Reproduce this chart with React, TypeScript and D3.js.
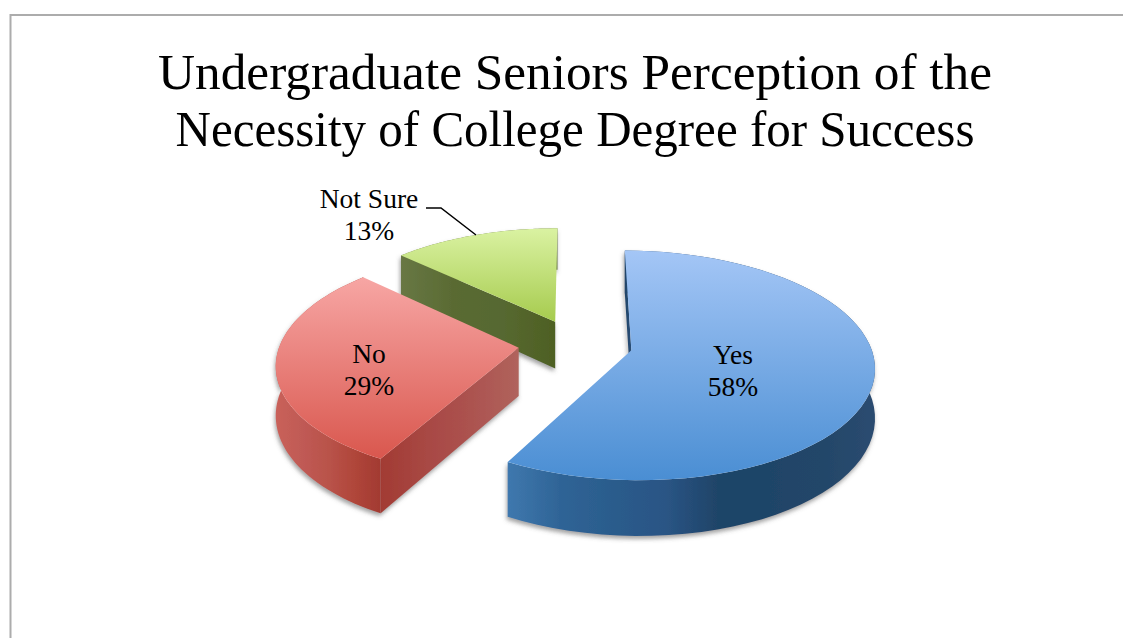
import React from 'react';
import * as d3 from 'd3';

const categories = ['Yes', 'No', 'Not Sure'];
const values = [58, 29, 13];
const explode = [0.24, 0.24, 0.22];
const titleLines = [
  'Undergraduate Seniors Perception of the',
  'Necessity of College Degree for Success',
];

const width = 1123;
const height = 638;
const serif = "'Liberation Serif', 'DejaVu Serif', serif";

// ground plane -> screen, simple perspective so the near side comes out bigger
const cx = 575.5;
const cy = 343.5;
const radiusX = 238.5;
const radiusY = 111;
const persp = 0.1316;
const depth = 48;

const project = (u: number, v: number, drop = 0): [number, number] => {
  const s = 1 / (1 + persp * v);
  return [cx + radiusX * u * s, cy - radiusY * v * s + depth * drop * s];
};

const sliceStyles = [
  {
    top: ['#a4c6f6', '#4a8ed3'],
    arc: ['#3f78ae', '#2f6496', '#2b5c8c', '#2a5585', '#1f4468', '#1f4468', '#234669', '#2b4c70'],
    side: ['#1f4468', '#2a4f78'],
  },
  {
    top: ['#f7a6a4', '#d9574e'],
    arc: ['#c9615a', '#c05a55', '#b9534a', '#b0463a', '#a23a32'],
    side: ['#a23b33', '#a84844', '#ac5350', '#b0635c'],
  },
  {
    top: ['#daf2a2', '#a6cb4e'],
    arc: ['#6b7a45', '#6b7a45'],
    side: ['#687744', '#5a6b33', '#566830', '#4e6023'],
  },
];

const labels = [
  { x: 733, y: 364, lines: ['Yes', '58%'] },
  { x: 369, y: 363, lines: ['No', '29%'] },
  { x: 369, y: 208, lines: ['Not Sure', '13%'] },
];

const pie = d3.pie<number>().sort(null).startAngle(0).endAngle(2 * Math.PI);
const arcs = pie(values);

const toPath = d3.line<[number, number]>();

function sliceShapes(i: number) {
  const a = arcs[i];
  const mid = (a.startAngle + a.endAngle) / 2;
  const ou = Math.sin(mid) * explode[i];
  const ov = Math.cos(mid) * explode[i];
  const steps = d3.range(0, 61).map((k) => a.startAngle + ((a.endAngle - a.startAngle) * k) / 60);
  const rim = (drop: number) =>
    steps.map((t) => project(ou + Math.sin(t), ov + Math.cos(t), drop));
  const apex = (drop: number) => project(ou, ov, drop);
  const edge = (t: number, drop: number) => project(ou + Math.sin(t), ov + Math.cos(t), drop);
  const side = (t: number) => [apex(0), edge(t, 0), edge(t, 1), apex(1)] as [number, number][];
  return {
    top: toPath([apex(0), ...rim(0)])! + 'Z',
    arc: toPath([...rim(0), ...rim(1).reverse()])! + 'Z',
    // only the start wall ever faces the viewer on these three slices
    sideStart: toPath(side(a.startAngle))! + 'Z',
  };
}

const Stops = ({ colors }: { colors: string[] }) => (
  <>
    {colors.map((c, k) => (
      <stop key={k} offset={k / (colors.length - 1)} stopColor={c} />
    ))}
  </>
);

export default function App() {
  // back slice first so the nearer ones overlap it
  const order = [2, 1, 0];
  return (
    <svg
      width={width}
      height={height}
      viewBox={`0 0 ${width} ${height}`}
      style={{ position: 'absolute', left: 0, top: 0, display: 'block', background: '#fff' }}
    >
      <defs>
        <filter id="wallShadow" x="-10%" y="-10%" width="120%" height="125%">
          <feDropShadow dx="-1" dy="3" stdDeviation="2" floodColor="#555" floodOpacity="0.55" />
        </filter>
        {sliceStyles.map((st, i) => (
          <React.Fragment key={i}>
            <linearGradient id={`top${i}`} x1="0" y1="0" x2="0" y2="1">
              <Stops colors={st.top} />
            </linearGradient>
            <linearGradient id={`arc${i}`} x1="0" y1="0" x2="1" y2="0">
              <Stops colors={st.arc} />
            </linearGradient>
            <linearGradient id={`side${i}`} x1="0" y1="0" x2="1" y2="0">
              <Stops colors={st.side} />
            </linearGradient>
          </React.Fragment>
        ))}
      </defs>

      <path d={`M10.5,${height}V15H${width}`} fill="none" stroke="#acacac" strokeWidth={2} />

      {titleLines.map((t, i) => (
        <text
          key={t}
          x={575}
          y={89 + i * 57}
          textAnchor="middle"
          fontFamily={serif}
          fontSize={50}
          textLength={i === 0 ? 834 : 799}
          lengthAdjust="spacingAndGlyphs"
          fill="#000"
        >
          {t}
        </text>
      ))}

      {order.map((i) => {
        const s = sliceShapes(i);
        return (
          <g key={categories[i]}>
            <g filter="url(#wallShadow)">
              <path d={s.arc} fill={`url(#arc${i})`} />
              <path d={s.sideStart} fill={`url(#side${i})`} />
            </g>
            <path d={s.top} fill={`url(#top${i})`} />
          </g>
        );
      })}

      <path d="M426,208H441L476,235" fill="none" stroke="#000" strokeWidth={1.5} />

      {labels.map((l) => (
        <g key={l.lines[0]}>
          {l.lines.map((t, k) => (
            <text
              key={t}
              x={l.x}
              y={l.y + k * 32}
              textAnchor="middle"
              fontFamily={serif}
              fontSize={27.5}
              fill="#000"
            >
              {t}
            </text>
          ))}
        </g>
      ))}
    </svg>
  );
}
